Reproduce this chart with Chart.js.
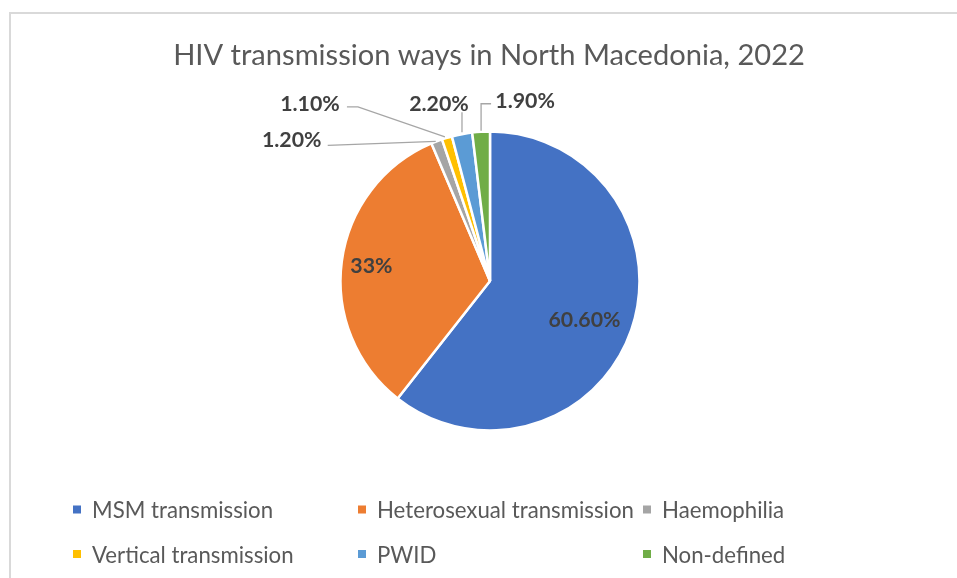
<!DOCTYPE html>
<html><head><meta charset="utf-8">
<script src="https://cdn.jsdelivr.net/npm/chart.js@4/dist/chart.umd.min.js"></script>
<style>html,body{margin:0;padding:0;background:#fff;overflow:hidden}#wrap{position:relative;width:957px;height:578px}</style>
</head><body><div id="wrap"><canvas id="c"></canvas></div>
<script>
// ---- data ----
const chartTitle = 'HIV transmission ways in North Macedonia, 2022';
const categories = ['MSM transmission', 'Heterosexual transmission', 'Haemophilia', 'Vertical transmission', 'PWID', 'Non-defined'];
const shares = [60.6, 33, 1.2, 1.1, 2.2, 1.9];
const valueLabels = ['60.60%', '33%', '1.20%', '1.10%', '2.20%', '1.90%'];

// ---- styles ----
const sliceColors = ['#4472C4', '#ED7D31', '#A5A5A5', '#FFC000', '#5B9BD5', '#70AD47'];
const FONT = 'Lato, "Open Sans", sans-serif';
// inside labels: radial fraction (+ nudge); outside labels: offset from outer mid point (A) and leader polyline
const labelLayout = [
  {inside: true, r: 0.69, dx: -3, dy: 5},
  {inside: true, r: 0.80, dx: 0, dy: 0},
  {dx: -145, dy: -2, leader: [['L', 36, 'L', 6], ['A', -1, 'A', 0]]},
  {dx: -137, dy: -34, leader: [['L', 37, 'L', 3], ['L', 48, 'L', 3], ['A', -2, 'A', -1]]},
  {dx: -23, dy: -31, leader: [['A', 0, 'L', 9], ['A', 0, 'A', -2]]},
  {dx: 44, dy: -31, leader: [['L', -34, 'L', 3], ['A', 0, 'L', 3], ['A', 0, 'A', -1]]}
];

// font sized so that `text` gets the width `target`
function makeFont(ctx, weight, text, target) {
  ctx.font = weight + ' 100px ' + FONT;
  const size = 100 * target / ctx.measureText(text).width;
  ctx.font = weight + ' ' + size.toFixed(2) + 'px ' + FONT;
  const cap = ctx.measureText('H').actualBoundingBoxAscent;
  return {font: ctx.font, cap: cap};
}
function put(ctx, f, text, x, cy, align) {
  ctx.font = f.font;
  ctx.textBaseline = 'alphabetic';
  ctx.textAlign = align;
  ctx.fillText(text, x, cy + f.cap / 2);
}

const decorPlugin = {
  id: 'decor',
  beforeDraw(chart) {
    const ctx = chart.ctx;
    ctx.save();
    ctx.fillStyle = '#fff';
    ctx.fillRect(0, 0, chart.width, chart.height);
    ctx.fillStyle = '#D9D9D9';
    ctx.fillRect(9, 12, chart.width - 9, 2);
    ctx.fillRect(9, 12, 2, chart.height - 12);
    // title
    const tf = makeFont(ctx, 'normal', chartTitle, 632);
    ctx.fillStyle = '#595959';
    put(ctx, tf, chartTitle, 489, 54, 'center');
    // legend
    const lf = makeFont(ctx, 'normal', categories[1], 257);
    const cols = [73, 358, 643], rows = [509.5, 554];
    categories.forEach((name, i) => {
      const x = cols[i % 3], y = rows[Math.floor(i / 3)];
      ctx.fillStyle = sliceColors[i];
      ctx.fillRect(x, y - 4, 8, 8);
      ctx.fillStyle = '#595959';
      put(ctx, lf, name, x + 19, y, 'left');
    });
    ctx.restore();
  },
  afterDatasetsDraw(chart) {
    const ctx = chart.ctx;
    const meta = chart.getDatasetMeta(0);
    ctx.save();
    const bf = makeFont(ctx, 'bold', valueLabels[0], 72);
    meta.data.forEach((arc, i) => {
      const p = arc.getProps(['x', 'y', 'startAngle', 'endAngle', 'outerRadius'], true);
      const mid = (p.startAngle + p.endAngle) / 2;
      const lay = labelLayout[i];
      ctx.fillStyle = '#404040';
      if (lay.inside) {
        const r = p.outerRadius * lay.r;
        put(ctx, bf, valueLabels[i], p.x + Math.cos(mid) * r + lay.dx, p.y + Math.sin(mid) * r + lay.dy, 'center');
      } else {
        const A = {x: p.x + Math.cos(mid) * p.outerRadius, y: p.y + Math.sin(mid) * p.outerRadius};
        const L = {x: A.x + lay.dx, y: A.y + lay.dy};
        const pts = lay.leader.map(q => ({
          x: (q[0] === 'L' ? L.x : A.x) + q[1],
          y: (q[2] === 'L' ? L.y : A.y) + q[3]
        }));
        ctx.strokeStyle = '#A6A6A6';
        ctx.lineWidth = 1.3;
        ctx.beginPath();
        pts.forEach((pt, k) => k ? ctx.lineTo(pt.x, pt.y) : ctx.moveTo(pt.x, pt.y));
        ctx.stroke();
        put(ctx, bf, valueLabels[i], L.x, L.y, 'center');
      }
    });
    ctx.restore();
  }
};

new Chart(document.getElementById('c'), {
  type: 'pie',
  data: {
    labels: categories,
    datasets: [{
      data: shares,
      backgroundColor: sliceColors,
      borderColor: '#FFFFFF',
      borderWidth: 2.5,
      radius: 149.5
    }]
  },
  options: {
    responsive: true,
    maintainAspectRatio: false,
    animation: false,
    layout: {padding: {left: 23, right: 0, top: 100, bottom: 116}},
    plugins: {legend: {display: false}, title: {display: false}, tooltip: {enabled: false}}
  },
  plugins: [decorPlugin]
});
</script>
</body></html>
